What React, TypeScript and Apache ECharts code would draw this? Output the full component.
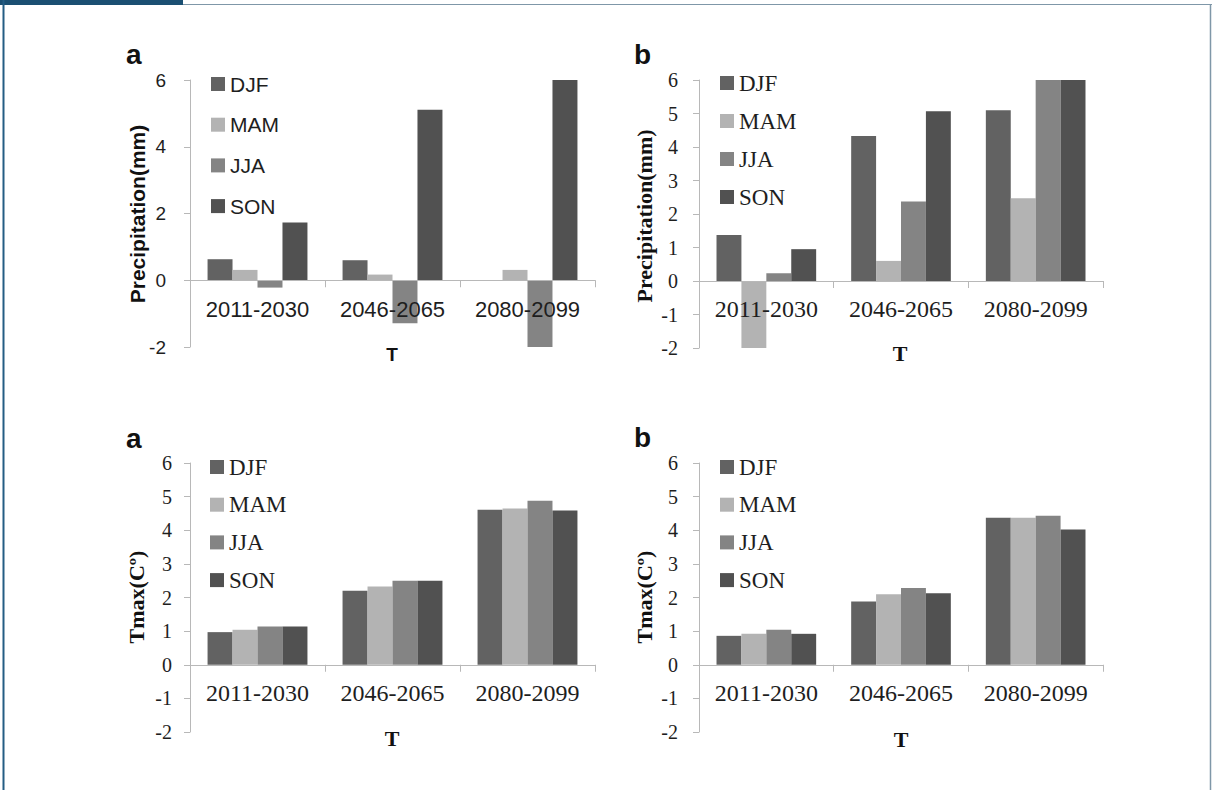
import React, { useEffect, useRef } from "react";
import * as echarts from "echarts";

const categories = ["2011-2030", "2046-2065", "2080-2099"];
const seasons = ["DJF", "MAM", "JJA", "SON"];
const seasonColors = ["#626262", "#b3b3b3", "#848484", "#515151"];

// Precipitation, panel a
const precipA_DJF = [0.63, 0.6, 0];
const precipA_MAM = [0.31, 0.17, 0.31];
const precipA_JJA = [-0.22, -1.29, -2.0];
const precipA_SON = [1.73, 5.11, 6.0];
// Precipitation, panel b
const precipB_DJF = [1.37, 4.33, 5.1];
const precipB_MAM = [-2.0, 0.6, 2.47];
const precipB_JJA = [0.23, 2.37, 6.0];
const precipB_SON = [0.95, 5.07, 6.0];
// Tmax, panel a
const tmaxA_DJF = [0.97, 2.2, 4.61];
const tmaxA_MAM = [1.04, 2.33, 4.65];
const tmaxA_JJA = [1.14, 2.5, 4.88];
const tmaxA_SON = [1.14, 2.5, 4.59];
// Tmax, panel b
const tmaxB_DJF = [0.86, 1.88, 4.37];
const tmaxB_MAM = [0.92, 2.1, 4.37];
const tmaxB_JJA = [1.04, 2.28, 4.43];
const tmaxB_SON = [0.92, 2.13, 4.02];

const yMin = -2;
const yMax = 6;

const SANS = "'Liberation Sans', Arial, sans-serif";
const SERIF = "'Liberation Serif', 'Times New Roman', serif";
const AXIS = "#b8b8b8";
const TEXT = "#1e1e1e";

const panels = [
  {
    letter: "a", yName: "Precipitation(mm)", series: [precipA_DJF, precipA_MAM, precipA_JJA, precipA_SON],
    left: 190, top: 80, width: 405, height: 267, interval: 2,
    font: SANS, tickSize: 19, catSize: 22, legendSize: 21, yNameSize: 21, tSize: 19,
    yMargin: 24, xMargin: 18, legendLeft: 211, legendTop: 73.5, legendGap: 19.7,
    letterX: 126, letterY: 54, yNameX: 137, yNameY: 214, tX: 392, tY: 354,
  },
  {
    letter: "b", yName: "Precipitation(mm)", series: [precipB_DJF, precipB_MAM, precipB_JJA, precipB_SON],
    left: 699, top: 80, width: 404, height: 268, interval: 1,
    font: SERIF, tickSize: 20, catSize: 24, legendSize: 23, yNameSize: 22, tSize: 22,
    yMargin: 21, xMargin: 16, legendLeft: 720, legendTop: 71.5, legendGap: 15,
    letterX: 634, letterY: 54, yNameX: 644, yNameY: 216, tX: 900, tY: 353,
  },
  {
    letter: "a", yName: "Tmax(Cº)", series: [tmaxA_DJF, tmaxA_MAM, tmaxA_JJA, tmaxA_SON],
    left: 190, top: 463, width: 405, height: 269, interval: 1,
    font: SERIF, tickSize: 20, catSize: 24, legendSize: 23, yNameSize: 22, tSize: 22,
    yMargin: 18, xMargin: 16, legendLeft: 210, legendTop: 455.5, legendGap: 14.7,
    letterX: 126, letterY: 438, yNameX: 136, yNameY: 597, tX: 392, tY: 738,
  },
  {
    letter: "b", yName: "Tmax(Cº)", series: [tmaxB_DJF, tmaxB_MAM, tmaxB_JJA, tmaxB_SON],
    left: 699, top: 463, width: 404, height: 269, interval: 1,
    font: SERIF, tickSize: 20, catSize: 24, legendSize: 23, yNameSize: 22, tSize: 22,
    yMargin: 21, xMargin: 16, legendLeft: 720, legendTop: 455.5, legendGap: 14.7,
    letterX: 634, letterY: 437, yNameX: 644, yNameY: 597, tX: 901, tY: 739,
  },
];

function buildOption() {
  const grid: any[] = [];
  const xAxis: any[] = [];
  const yAxis: any[] = [];
  const series: any[] = [];
  const legend: any[] = [];
  const graphic: any[] = [];

  panels.forEach((p, i) => {
    grid.push({ left: p.left, top: p.top, width: p.width, height: p.height, containLabel: false });
    // place the category axis on the zero line (labels follow it)
    const zeroOffset = -p.height * ((0 - yMin) / (yMax - yMin));
    xAxis.push({
      type: "category",
      gridIndex: i,
      data: categories,
      boundaryGap: true,
      position: "bottom",
      offset: zeroOffset,
      z: 5,
      axisLine: { show: true, onZero: false, lineStyle: { color: AXIS, width: 1 } },
      axisTick: { show: true, length: 7, lineStyle: { color: AXIS } },
      axisLabel: { interval: 0, margin: p.xMargin, fontFamily: p.font, fontSize: p.catSize, color: TEXT },
      splitLine: { show: false },
    });
    yAxis.push({
      type: "value",
      gridIndex: i,
      min: yMin,
      max: yMax,
      interval: p.interval,
      axisLine: { show: true, lineStyle: { color: AXIS, width: 1 } },
      axisTick: { show: true, length: 6, lineStyle: { color: AXIS } },
      axisLabel: { margin: p.yMargin, fontFamily: p.font, fontSize: p.tickSize, color: TEXT },
      splitLine: { show: false },
    });
    p.series.forEach((vals, s) => {
      series.push({
        type: "bar",
        name: seasons[s],
        xAxisIndex: i,
        yAxisIndex: i,
        data: vals,
        barGap: "0%",
        barCategoryGap: "26%",
        itemStyle: { color: seasonColors[s] },
      });
    });
    legend.push({
      orient: "vertical",
      left: p.legendLeft,
      top: p.legendTop,
      padding: 0,
      itemWidth: 14,
      itemHeight: 14,
      itemGap: p.legendGap,
      itemTextGap: 5,
      icon: "rect",
      selectedMode: false,
      data: seasons,
      textStyle: { fontFamily: p.font, fontSize: p.legendSize, color: TEXT },
    });
    graphic.push(
      {
        type: "text", x: p.letterX, y: p.letterY,
        style: { text: p.letter, font: `bold 28px ${SANS}`, fill: "#111", align: "left", verticalAlign: "middle" },
      },
      {
        type: "text", x: p.yNameX, y: p.yNameY, rotation: Math.PI / 2,
        style: { text: p.yName, font: `bold ${p.yNameSize}px ${p.font}`, fill: "#111", align: "center", verticalAlign: "middle" },
      },
      {
        type: "text", x: p.tX, y: p.tY,
        style: { text: "T", font: `bold ${p.tSize}px ${p.font}`, fill: "#111", align: "center", verticalAlign: "middle" },
      }
    );
  });

  // page frame
  graphic.push(
    { type: "rect", shape: { x: 0, y: 0, width: 183, height: 5 }, style: { fill: "#1b4f72" } },
    { type: "line", shape: { x1: 183, y1: 4.5, x2: 1212, y2: 4.5 }, style: { stroke: "#7f97a8", lineWidth: 1 } },
    { type: "line", shape: { x1: 3.5, y1: 0, x2: 3.5, y2: 790 }, style: { stroke: "#245d84", lineWidth: 2 } },
    { type: "line", shape: { x1: 1210.5, y1: 4, x2: 1210.5, y2: 790 }, style: { stroke: "#7f97a8", lineWidth: 1.5 } }
  );

  return {
    animation: false,
    backgroundColor: "#ffffff",
    grid,
    xAxis,
    yAxis,
    legend,
    series,
    graphic,
  };
}

export default function App() {
  const ref = useRef<HTMLDivElement>(null);
  useEffect(() => {
    if (!ref.current) return;
    const chart = echarts.init(ref.current, null, { renderer: "svg" });
    chart.setOption(buildOption());
    return () => chart.dispose();
  }, []);
  return (
    <div
      ref={ref}
      style={{ position: "absolute", left: 0, top: 0, width: 1212, height: 790, background: "#fff" }}
    />
  );
}
